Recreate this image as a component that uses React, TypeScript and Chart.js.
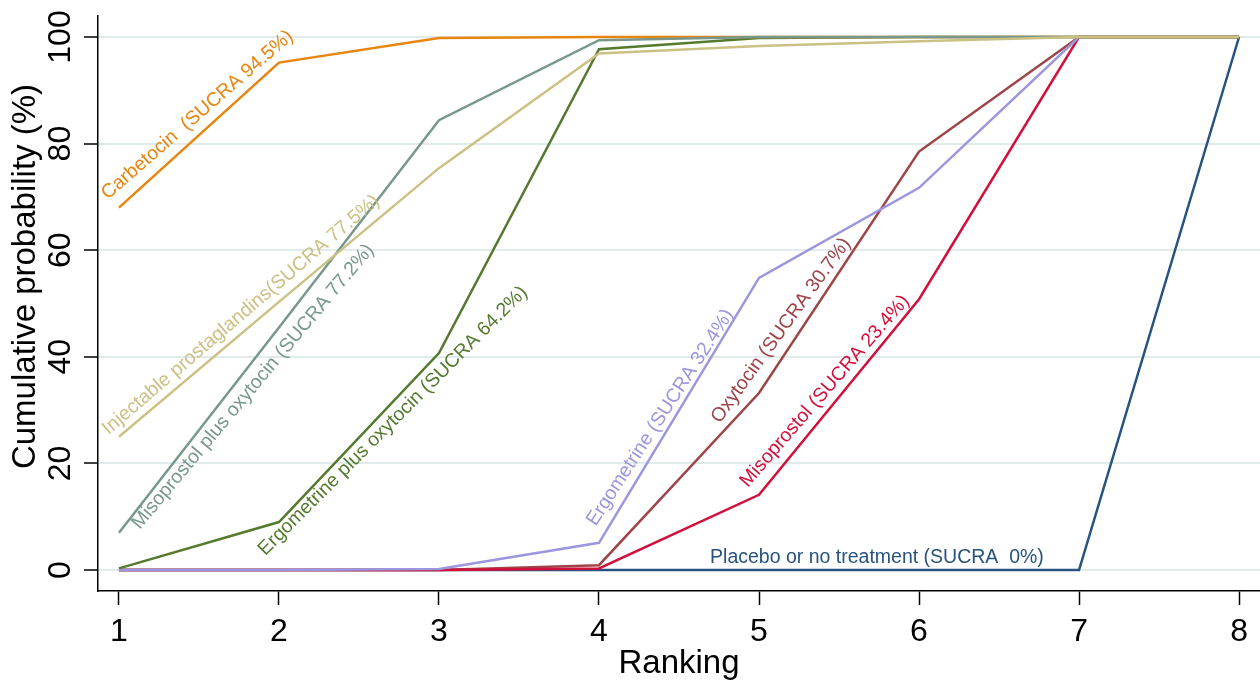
import React, { useEffect, useRef } from 'react';
import { Chart, registerables } from 'chart.js';

Chart.register(...registerables);

// ---- data ----
const rankings = [1, 2, 3, 4, 5, 6, 7, 8];
const xTickValues = [1, 2, 3, 4, 5, 6, 7, 8];
const yTickValues = [0, 20, 40, 60, 80, 100];

const carbetocin = [68, 95.2, 99.8, 100, 100, 100, 100, 100];
const injectableProstaglandins = [25, 50.3, 75.4, 96.9, 98.3, 99.2, 100, 100];
const misoprostolPlusOxytocin = [7, 45.5, 84.4, 99.4, 100, 100, 100, 100];
const ergometrinePlusOxytocin = [0.3, 9, 40.7, 97.7, 99.8, 100, 100, 100];
const ergometrine = [0, 0, 0.2, 5.1, 54.8, 71.7, 100, 100];
const oxytocin = [0, 0, 0, 0.9, 33.2, 78.5, 100, 100];
const misoprostol = [0, 0, 0, 0.3, 14.1, 50.8, 100, 100];
const placebo = [0, 0, 0, 0, 0, 0, 0, 100];

const xTitle = 'Ranking';
const yTitle = 'Cumulative probability (%)';

// ---- styles ----
const COLORS = {
  carbetocin: '#E8850F',
  injectable: '#CBC184',
  misoOxy: '#78988E',
  ergoOxy: '#557A2E',
  ergometrine: '#9B97DE',
  oxytocin: '#9E4448',
  misoprostol: '#D2103C',
  placebo: '#27537E',
};

const FONT = '"Liberation Sans", Arial, sans-serif';

// label annotations (data coordinates + rotation)
const lineLabels = [
  { text: 'Carbetocin  (SUCRA 94.5%)', x: 0.93, y: 69.4, angle: -41, color: COLORS.carbetocin },
  { text: 'Injectable prostaglandins(SUCRA 77.5%)', x: 0.935, y: 25.3, angle: -40.5, color: COLORS.injectable },
  { text: 'Misoprostol plus oxytocin (SUCRA 77.2%)', x: 1.13, y: 7.5, angle: -50, color: COLORS.misoOxy },
  { text: 'Ergometrine plus oxytocin (SUCRA 64.2%)', x: 1.915, y: 2.6, angle: -45, color: COLORS.ergoOxy },
  { text: 'Ergometrine (SUCRA 32.4%)', x: 3.98, y: 8.1, angle: -57, color: COLORS.ergometrine },
  { text: 'Oxytocin (SUCRA 30.7%)', x: 4.755, y: 27.4, angle: -54, color: COLORS.oxytocin },
  { text: 'Misoprostol (SUCRA 23.4%)', x: 4.93, y: 15.4, angle: -49, color: COLORS.misoprostol },
  { text: 'Placebo or no treatment (SUCRA  0%)', x: 4.694, y: 1.3, angle: 0, color: COLORS.placebo },
];

const toPoints = (vals: number[]) => rankings.map((r, i) => ({ x: r, y: vals[i] }));

const mkDs = (label: string, vals: number[], color: string) => ({
  label,
  data: toPoints(vals),
  borderColor: color,
  backgroundColor: color,
  borderWidth: 2.5,
  pointRadius: 0,
  pointHoverRadius: 0,
  tension: 0,
  fill: false,
});

const customText = {
  id: 'customText',
  afterDatasetsDraw(chart: any) {
    const { ctx, scales } = chart;
    const xs = scales.x;
    const ys = scales.y;
    ctx.save();
    ctx.font = `19.5px ${FONT}`;
    ctx.textAlign = 'left';
    ctx.textBaseline = 'alphabetic';
    for (const l of lineLabels) {
      const px = xs.getPixelForValue(l.x);
      const py = ys.getPixelForValue(l.y);
      ctx.save();
      ctx.translate(px, py);
      ctx.rotate((l.angle * Math.PI) / 180);
      ctx.fillStyle = l.color;
      ctx.fillText(l.text, 0, 0);
      ctx.restore();
    }
    ctx.restore();
  },
  afterDraw(chart: any) {
    const { ctx, scales, chartArea } = chart;
    const ys = scales.y;
    ctx.save();
    ctx.fillStyle = '#000';
    ctx.font = `32px ${FONT}`;
    ctx.textAlign = 'center';
    ctx.textBaseline = 'alphabetic';
    for (const v of yTickValues) {
      const py = ys.getPixelForValue(v);
      ctx.save();
      ctx.translate(ys.right - 28.5, py);
      ctx.rotate(-Math.PI / 2);
      ctx.fillText(String(v), 0, 0);
      ctx.restore();
    }
    ctx.font = `33px ${FONT}`;
    ctx.save();
    ctx.translate(35, (chartArea.top + chartArea.bottom) / 2 - 27);
    ctx.rotate(-Math.PI / 2);
    ctx.fillText(yTitle, 0, 0);
    ctx.restore();
    ctx.restore();
  },
};

export default function App() {
  const ref = useRef<HTMLCanvasElement | null>(null);

  useEffect(() => {
    if (!ref.current) return;
    const chart = new Chart(ref.current, {
      type: 'line',
      data: {
        datasets: [
          mkDs('Injectable prostaglandins', injectableProstaglandins, COLORS.injectable),
          mkDs('Misoprostol plus oxytocin', misoprostolPlusOxytocin, COLORS.misoOxy),
          mkDs('Carbetocin', carbetocin, COLORS.carbetocin),
          mkDs('Ergometrine plus oxytocin', ergometrinePlusOxytocin, COLORS.ergoOxy),
          mkDs('Ergometrine', ergometrine, COLORS.ergometrine),
          mkDs('Misoprostol', misoprostol, COLORS.misoprostol),
          mkDs('Oxytocin', oxytocin, COLORS.oxytocin),
          mkDs('Placebo or no treatment', placebo, COLORS.placebo),
        ],
      },
      options: {
        animation: false,
        responsive: false,
        maintainAspectRatio: false,
        devicePixelRatio: 1,
        layout: { padding: { top: 16, right: 0, bottom: 0, left: 0 } },
        plugins: {
          legend: { display: false },
          tooltip: { enabled: false },
          title: { display: false },
        },
        scales: {
          x: {
            type: 'linear',
            min: 0.869,
            max: 8.131,
            afterBuildTicks: (s: any) => {
              s.ticks = xTickValues.map((v) => ({ value: v }));
            },
            afterFit: (s: any) => {
              s.height = 90;
            },
            ticks: {
              color: '#000',
              font: { family: FONT, size: 32, lineHeight: 1.2 },
              padding: 8,
              maxRotation: 0,
              minRotation: 0,
              autoSkip: false,
            },
            grid: {
              drawOnChartArea: false,
              drawTicks: true,
              tickLength: 14,
              tickColor: '#000',
              tickWidth: 1.5,
            },
            border: { display: true, color: '#000', width: 1.5 },
            title: {
              display: true,
              text: xTitle,
              color: '#000',
              font: { family: FONT, size: 33, lineHeight: 1 },
              padding: { top: 0, bottom: 1 },
            },
          },
          y: {
            type: 'linear',
            min: -3.94,
            max: 103.94,
            afterBuildTicks: (s: any) => {
              s.ticks = yTickValues.map((v) => ({ value: v }));
            },
            afterFit: (s: any) => {
              s.width = 98;
            },
            ticks: { display: false },
            grid: {
              drawOnChartArea: true,
              color: '#E2EBEB',
              lineWidth: 2,
              drawTicks: true,
              tickLength: 14,
              tickColor: '#000',
              tickWidth: 1.5,
            },
            border: { display: true, color: '#000', width: 1.5 },
          },
        },
      },
      plugins: [customText],
    } as any);
    return () => chart.destroy();
  }, []);

  return (
    <div style={{ position: 'absolute', left: 0, top: 0, width: 1260, height: 681, background: '#fff' }}>
      <canvas ref={ref} width={1260} height={681} style={{ display: 'block' }} />
    </div>
  );
}
